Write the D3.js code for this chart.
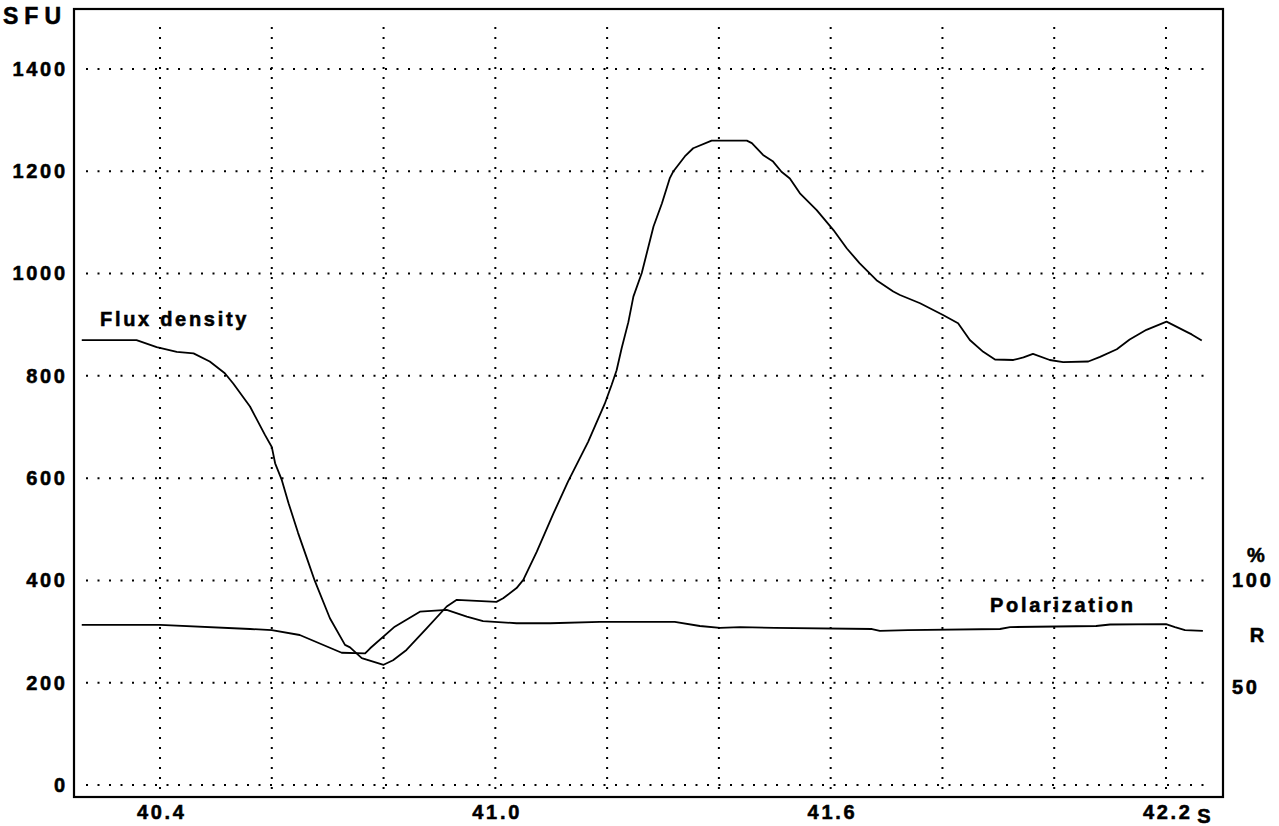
<!DOCTYPE html>
<html>
<head>
<meta charset="utf-8">
<script src="https://cdn.jsdelivr.net/npm/d3@7/dist/d3.min.js"></script>
<style>
  html, body { margin: 0; padding: 0; background: #fff; }
  svg { display: block; }
  text { font-family: "Liberation Sans", Arial, sans-serif; font-weight: bold; fill: #000; stroke: #000; stroke-width: 0.55px; }
</style>
</head>
<body>
<svg id="chart" width="1279" height="826"></svg>
<script>
// Flux density (SFU) against time (s)
const fluxTime = [40.260, 40.358, 40.394, 40.430, 40.460, 40.489, 40.516, 40.531, 40.561, 40.588,
  40.600, 40.606, 40.618, 40.630, 40.647, 40.662, 40.677, 40.704, 40.731, 40.740,
  40.761, 40.800, 40.817, 40.841, 40.877, 40.913, 40.931, 41.002, 41.014, 41.038,
  41.050, 41.074, 41.104, 41.130, 41.166, 41.196, 41.208, 41.217, 41.226, 41.238,
  41.247, 41.262, 41.283, 41.298, 41.312, 41.318, 41.339, 41.354, 41.387, 41.450,
  41.459, 41.479, 41.497, 41.512, 41.527, 41.545, 41.575, 41.605, 41.629, 41.652,
  41.682, 41.712, 41.724, 41.760, 41.801, 41.828, 41.849, 41.873, 41.894, 41.927,
  41.945, 41.962, 41.992, 42.016, 42.061, 42.082, 42.112, 42.135, 42.165, 42.201,
  42.237, 42.246, 42.264];
const fluxValue = [870, 870, 856, 847, 844, 828, 805, 785, 740, 684,
  661, 629, 596, 551, 493, 446, 399, 326, 274, 269,
  248, 235, 244, 264, 306, 349, 362, 358, 365, 385,
  401, 456, 531, 593, 671, 746, 782, 811, 854, 905,
  955, 1001, 1092, 1137, 1186, 1199, 1229, 1245, 1260, 1260,
  1255, 1232, 1219, 1199, 1186, 1157, 1124, 1085, 1049, 1020,
  987, 965, 958, 942, 919, 903, 870, 847, 832, 831,
  836, 843, 831, 827, 828, 837, 852, 871, 890, 906,
  886, 881, 869];

// Polarization (% R) against time (s)
const polTime = [40.260, 40.400, 40.561, 40.600, 40.650, 40.725, 40.767, 40.776, 40.820, 40.865,
  40.913, 40.949, 40.978, 41.038, 41.098, 41.187, 41.321, 41.366, 41.402, 41.438,
  41.500, 41.674, 41.688, 41.738, 41.903, 41.921, 42.075, 42.100, 42.200, 42.216,
  42.234, 42.266];
const polValue = [79.0, 79.0, 77.1, 76.6, 74.3, 66.0, 65.7, 68.1, 78.2, 85.2,
  86.0, 82.9, 80.8, 79.8, 79.8, 80.4, 80.4, 78.5, 77.6, 78.0,
  77.6, 77.1, 76.2, 76.6, 77.1, 78.0, 78.5, 79.2, 79.4, 78.0,
  76.6, 76.2];

const xTicks = [40.4, 40.6, 40.8, 41.0, 41.2, 41.4, 41.6, 41.8, 42.0, 42.2];
const xTickLabels = ["40.4", "", "", "41.0", "", "", "41.6", "", "", "42.2"];
const yTicks = [0, 200, 400, 600, 800, 1000, 1200, 1400];
const rightTicks = [100, 50];

const svg = d3.select("#chart");
const frame = { left: 74, top: 9, right: 1223, bottom: 797 };

const x = d3.scaleLinear().domain([40.2461, 42.302]).range([frame.left, frame.right]);
const y = d3.scaleLinear().domain([-23.5, 1517.3]).range([frame.bottom, frame.top]);
const yPol = d3.scaleLinear().domain([50, 100]).range([687, 580]);

// dotted grid
const grid = svg.append("g");
grid.selectAll("line.h").data(yTicks).join("line")
  .attr("x1", frame.left + 12).attr("x2", frame.right - 14)
  .attr("y1", d => y(d)).attr("y2", d => y(d))
  .attr("stroke", "#000").attr("stroke-width", 2)
  .attr("stroke-dasharray", "2 9.5");
grid.selectAll("line.v").data(xTicks).join("line")
  .attr("x1", d => x(d)).attr("x2", d => x(d))
  .attr("y1", frame.top + 18).attr("y2", frame.bottom - 2)
  .attr("stroke", "#000").attr("stroke-width", 2)
  .attr("stroke-dasharray", "2 8");

// plot frame
svg.append("rect")
  .attr("x", frame.left).attr("y", frame.top)
  .attr("width", frame.right - frame.left).attr("height", frame.bottom - frame.top)
  .attr("fill", "none").attr("stroke", "#000").attr("stroke-width", 2.2);

// left axis labels
const leftAxis = d3.axisLeft(y).tickValues(yTicks).tickSize(0).tickPadding(9).tickFormat(d3.format("d"));
const gl = svg.append("g").attr("transform", `translate(${frame.left},0)`).call(leftAxis);
gl.select(".domain").remove();
gl.selectAll("text").attr("font-size", 20).attr("letter-spacing", "2.7px")
  .attr("font-family", "Liberation Sans, Arial, sans-serif").attr("font-weight", "bold")
  .attr("fill", "#000").attr("dx", "2.7");

// bottom axis labels
const bottomAxis = d3.axisBottom(x).tickValues(xTicks).tickSize(0).tickPadding(8)
  .tickFormat((d, i) => xTickLabels[i]);
const gb = svg.append("g").attr("transform", `translate(0,${frame.bottom})`).call(bottomAxis);
gb.select(".domain").remove();
gb.selectAll("text").attr("font-size", 20).attr("letter-spacing", "2.7px")
  .attr("font-family", "Liberation Sans, Arial, sans-serif").attr("font-weight", "bold")
  .attr("fill", "#000").attr("dx", "1.3");

// right axis labels (polarization)
svg.selectAll("text.rt").data(rightTicks).join("text")
  .attr("x", 1232).attr("y", d => yPol(d)).attr("dy", "0.35em")
  .attr("font-size", 20).attr("letter-spacing", "2.7px")
  .text(d => d);

function label(txt, tx, ty, anchor, spacing, size) {
  svg.append("text").attr("x", tx).attr("y", ty)
    .attr("text-anchor", anchor || "start")
    .attr("font-size", size || 20).attr("letter-spacing", (spacing == null ? 2.7 : spacing) + "px")
    .text(txt);
}
label("SFU", 3, 24, "start", 6, 23);
label("S", 1204, 823, "middle", 0);
label("%", 1256, 562, "middle", 0);
label("R", 1257, 642, "middle", 0);
label("Flux  density", 100, 326);
label("Polarization", 990, 612);

// curves
const fluxData = fluxTime.map((t, i) => [t, fluxValue[i]]);
const polData = polTime.map((t, i) => [t, polValue[i]]);

svg.append("path").datum(fluxData)
  .attr("fill", "none").attr("stroke", "#000").attr("stroke-width", 1.8)
  .attr("stroke-linejoin", "round")
  .attr("d", d3.line().x(d => x(d[0])).y(d => y(d[1])));

svg.append("path").datum(polData)
  .attr("fill", "none").attr("stroke", "#000").attr("stroke-width", 1.8)
  .attr("stroke-linejoin", "round")
  .attr("d", d3.line().x(d => x(d[0])).y(d => yPol(d[1])));
</script>
</body>
</html>
